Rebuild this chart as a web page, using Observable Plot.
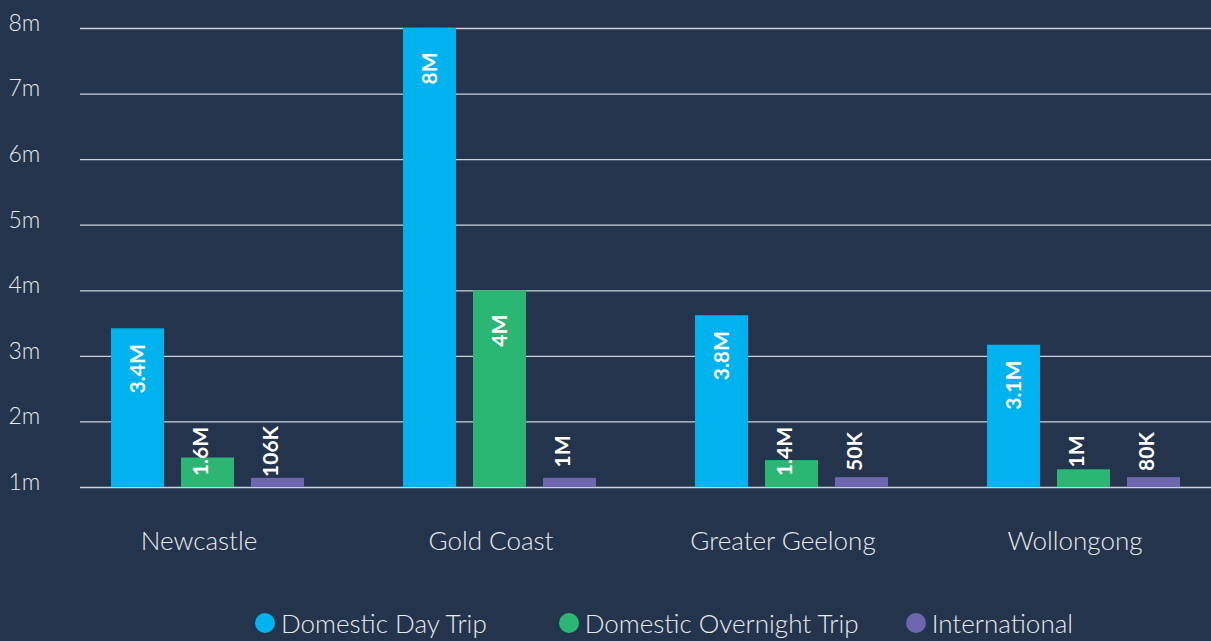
<!DOCTYPE html>
<html>
<head>
<meta charset="utf-8">
<script src="https://cdn.jsdelivr.net/npm/d3@7"></script>
<script src="https://cdn.jsdelivr.net/npm/@observablehq/plot@0.6"></script>
<style>
  html, body { margin: 0; padding: 0; background: #23344c; overflow: hidden; }
  body { width: 1211px; height: 641px; font-family: Lato, "Open Sans", sans-serif; }
  #chart svg { display: block; }
  .legend { display: flex; justify-content: flex-start; align-items: center; margin-top: 9px; padding-left: 255px; height: 28px; color: #e8eaee; font-size: 26px; font-weight: 300; line-height: 28px; }
  .legend .item { display: flex; align-items: center; }
  .legend .dot { width: 20px; height: 20px; border-radius: 50%; margin-right: 6px; }
</style>
</head>
<body>
<div id="chart"></div>
<div class="legend" id="legend"></div>
<script>
// ---- data ----
const cities = ["Newcastle", "Gold Coast", "Greater Geelong", "Wollongong"];
const seriesNames = ["Domestic Day Trip", "Domestic Overnight Trip", "International"];
const seriesColors = ["#00b2ee", "#2bb673", "#6e67b0"];
const dayTrip = [3.42, 8.0, 3.62, 3.17];
const overnightTrip = [1.45, 4.0, 1.41, 1.27];
const international = [1.14, 1.14, 1.15, 1.15];
const dayTripLabels = ["3.4M", "8M", "3.8M", "3.1M"];
const overnightLabels = ["1.6M", "4M", "1.4M", "1M"];
const internationalLabels = ["106K", "1M", "50K", "80K"];
const yTicks = [1, 2, 3, 4, 5, 6, 7, 8];
const yTickLabels = ["1m", "2m", "3m", "4m", "5m", "6m", "7m", "8m"];

// ---- table ----
const values = [dayTrip, overnightTrip, international];
const labels = [dayTripLabels, overnightLabels, internationalLabels];
const rows = [];
cities.forEach((c, i) => {
  seriesNames.forEach((s, j) => {
    rows.push({city: c, series: s, value: values[j][i], label: labels[j][i]});
  });
});
const gridRows = yTicks.map(t => ({t, city: cities[0]}));

const chart = Plot.plot({
  width: 1211,
  height: 600,
  marginLeft: 80,
  marginRight: 0,
  marginTop: 28,
  marginBottom: 113,
  style: {background: "transparent", color: "#e8eaee", fontFamily: "Lato, 'Open Sans', sans-serif", fontSize: "22px"},
  fx: {domain: cities, paddingInner: 0.34, paddingOuter: 0.105, label: null},
  x: {domain: seriesNames, paddingInner: 0.243, paddingOuter: 0, axis: null},
  y: {domain: [1, 8], axis: null},
  color: {domain: seriesNames, range: seriesColors},
  marks: [
    Plot.ruleY(gridRows, {y: "t", fx: "city", stroke: "#cfd3d9", strokeWidth: 1.3, insetLeft: -31, insetRight: -3000}),
    Plot.barY(rows, {fx: "city", x: "series", y1: 1, y2: "value", fill: "series"}),
    Plot.text(rows.filter(d => d.value > 2), {
      fx: "city", x: "series", y: "value", text: "label",
      rotate: -90, dy: 40, fill: "white", fontWeight: "bold", fontSize: 21
    }),
    Plot.text(rows.filter(d => d.value <= 2), {
      fx: "city", x: "series", frameAnchor: "bottom", text: "label",
      rotate: -90, dy: -36, fill: "white", fontWeight: "bold", fontSize: 21
    }),
    Plot.axisY(yTicks, {
      tickSize: 0, textAnchor: "start", dx: -94, dy: -5, fontSize: 23, fontWeight: 300,
      tickFormat: (d) => yTickLabels[yTicks.indexOf(d)], label: null
    }),
    Plot.axisFx({anchor: "bottom", tickSize: 0, tickPadding: 44, dx: -9, fontSize: 26, fontWeight: 300, label: null})
  ]
});
document.getElementById("chart").appendChild(chart);

const legend = document.getElementById("legend");
const legendGaps = [72, 47, 0];
seriesNames.forEach((s, j) => {
  const item = document.createElement("div");
  item.className = "item";
  item.style.marginRight = legendGaps[j] + "px";
  const dot = document.createElement("span");
  dot.className = "dot";
  dot.style.background = seriesColors[j];
  const txt = document.createElement("span");
  txt.textContent = s;
  item.appendChild(dot);
  item.appendChild(txt);
  legend.appendChild(item);
});
</script>
</body>
</html>
